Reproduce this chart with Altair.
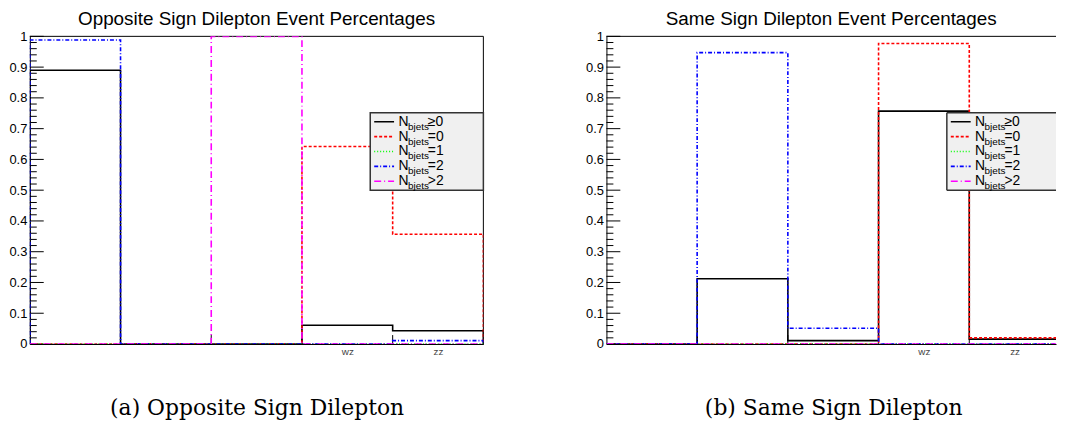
import json
import altair as alt
import pandas as pd

# ---------------- data ----------------
bin_labels = ["", "", "", "wz", "zz"]
series = ["N_bjets>=0", "N_bjets=0", "N_bjets=1", "N_bjets=2", "N_bjets>2"]
legend_suffix = ["\u22650", "=0", "=1", "=2", ">2"]

os_ge0 = [0.890, 0.0, 0.0, 0.061, 0.043]
os_eq0 = [0.0, 0.0, 0.0, 0.642, 0.357]
os_eq1 = [0.0, 0.0, 0.0, 0.0, 0.0]
os_eq2 = [0.988, 0.0, 0.0, 0.0, 0.011]
os_gt2 = [0.0, 0.0, 1.0, 0.0, 0.0]

ss_ge0 = [0.0, 0.212, 0.011, 0.757, 0.016]
ss_eq0 = [0.0, 0.0, 0.0, 0.977, 0.020]
ss_eq1 = [0.0, 0.0, 0.0, 0.0, 0.0]
ss_eq2 = [0.0, 0.947, 0.051, 0.0, 0.0]
ss_gt2 = [0.0, 0.0, 0.0, 0.0, 0.0]

major_ticks = [round(i * 0.1, 2) for i in range(11)]
minor_ticks = [round(i * 0.02, 2) for i in range(51) if i % 5 != 0]

# ---------------- styles ----------------
colors = ["#000000", "#ff0000", "#00ff00", "#0000ff", "#ff00ff"]
dashes = [[1, 0], [3, 2], [1, 2], [4, 2, 1, 2], [7, 3, 1, 3]]
SANS = "Liberation Sans"
SERIF = "DejaVu Serif"
W, H = 457, 310
NBINS = len(bin_labels)


def step_df(vals):
    n = len(vals)
    xs = [0] + list(range(n)) + [n, n]
    ys = [0.0] + list(vals) + [vals[-1], 0.0]
    return pd.DataFrame({"x": xs, "y": ys, "i": list(range(len(xs)))})


def panel(title, caption, hists, width, right_frame):
    xmax = NBINS * width / W
    xs = alt.Scale(domain=[0, xmax], nice=False, zero=False)
    ys = alt.Scale(domain=[0, 1], nice=False, zero=False)
    label_js = json.dumps(bin_labels)
    x_axis = alt.Axis(
        values=[i + 0.5 for i in range(NBINS)],
        labelExpr=f"{label_js}[floor(datum.value)]",
        ticks=False, grid=False, domain=True, domainColor="#000", domainWidth=1,
        labelFont=SANS, labelFontSize=10, labelColor="#444", labelPadding=3,
        labelFlush=False, labelOverlap=False,
        title=caption, titleFont=SERIF, titleFontSize=22, titleFontWeight="normal",
        titleColor="#000", titleBaseline="alphabetic", titleY=71, titleX=W / 2,
    )
    y_axis = alt.Axis(
        values=major_ticks, format="~g", ticks=False, grid=False, domain=True,
        domainColor="#000", domainWidth=1, labelFont=SANS, labelFontSize=13,
        labelColor="#000", labelPadding=3, title=None, labelOverlap=False,
    )
    layers = []
    one = pd.DataFrame({"k": [0]})
    # frame
    layers.append(alt.Chart(one).mark_rule(color="#000", strokeWidth=1).encode(
        x=alt.value(0), x2=alt.value(width), y=alt.value(0)))
    if right_frame:
        layers.append(alt.Chart(one).mark_rule(color="#000", strokeWidth=1).encode(
            x=alt.value(width), y=alt.value(0), y2=alt.value(H)))
    # inward y ticks
    tick_df = pd.DataFrame({"v": major_ticks + minor_ticks,
                            "len": [14] * len(major_ticks) + [7] * len(minor_ticks)})
    for ln in (14, 7):
        layers.append(
            alt.Chart(tick_df).transform_filter(f"datum.len == {ln}").mark_rule(
                color="#000", strokeWidth=1
            ).encode(
                y=alt.Y("v:Q", scale=ys, axis=y_axis),
                x=alt.value(0), x2=alt.value(ln),
            )
        )
    # x ticks at bin edges
    edge_df = pd.DataFrame({"e": list(range(1, NBINS))})
    layers.append(
        alt.Chart(edge_df).mark_rule(color="#000", strokeWidth=1).encode(
            x=alt.X("e:Q", scale=xs, axis=x_axis), y=alt.value(H - 9), y2=alt.value(H)
        )
    )
    # histograms
    for vals, c, d in zip(hists, colors, dashes):
        layers.append(
            alt.Chart(step_df(vals)).mark_line(
                interpolate="step-after", color=c, strokeDash=d, strokeWidth=1.6, clip=True
            ).encode(
                x=alt.X("x:Q", scale=xs, axis=x_axis),
                y=alt.Y("y:Q", scale=ys, axis=y_axis),
                order="i:Q",
            )
        )
    # legend box
    bx1, bx2, by1, by2 = 343, 457, 77, 155
    if right_frame:
        layers.append(alt.Chart(one).mark_rect(
            fill="#f0f0f0", stroke="#333", strokeWidth=1.5
        ).encode(x=alt.value(bx1), x2=alt.value(bx2), y=alt.value(by1), y2=alt.value(by2)))
    else:
        layers.append(alt.Chart(one).mark_rect(fill="#f0f0f0", strokeWidth=0).encode(
            x=alt.value(bx1), x2=alt.value(width), y=alt.value(by1), y2=alt.value(by2)))
        for yy in (by1, by2):
            layers.append(alt.Chart(one).mark_rule(color="#333", strokeWidth=1.5).encode(
                x=alt.value(bx1), x2=alt.value(width), y=alt.value(yy)))
        layers.append(alt.Chart(one).mark_rule(color="#333", strokeWidth=1.5).encode(
            x=alt.value(bx1), y=alt.value(by1), y2=alt.value(by2)))
    leg = pd.DataFrame({"s": series, "suffix": legend_suffix})
    for i in range(len(series)):
        ly = 86 + 15 * i
        sub = alt.Chart(leg).transform_filter(f"datum.s == '{series[i]}'")
        layers.append(sub.mark_rule(color=colors[i], strokeDash=dashes[i], strokeWidth=1.6).encode(
            x=alt.value(347), x2=alt.value(367), y=alt.value(ly)))
        layers.append(sub.mark_text(font=SANS, fontSize=14, align="left", baseline="middle",
                                    color="#000").encode(
            x=alt.value(371.5), y=alt.value(ly), text=alt.value("N")))
        layers.append(sub.mark_text(font=SANS, fontSize=10, align="left", baseline="middle",
                                    color="#000").encode(
            x=alt.value(381), y=alt.value(ly + 5), text=alt.value("bjets")))
        layers.append(sub.mark_text(font=SANS, fontSize=14, align="left", baseline="middle",
                                    color="#000").encode(
            x=alt.value(401), y=alt.value(ly), text="suffix:N"))
    return alt.layer(*layers).properties(
        width=width, height=H,
        title=alt.TitleParams(title, font=SANS, fontSize=19, fontWeight="normal",
                              color="#000", anchor="middle", frame="group",
                              baseline="bottom", offset=-17.5),
    )


left = panel("Opposite Sign Dilepton Event Percentages", "(a) Opposite Sign Dilepton",
             [os_ge0, os_eq0, os_eq1, os_eq2, os_gt2], W, True)
right = panel("Same Sign Dilepton Event Percentages", "(b) Same Sign Dilepton",
              [ss_ge0, ss_eq0, ss_eq1, ss_eq2, ss_gt2], 453, False)

chart = alt.hconcat(left, right, spacing=124, bounds="flush").properties(
    padding={"left": 0, "top": 0, "right": 0, "bottom": 0}, background="white"
).configure_view(stroke=None)

chart.save("out.html", embed_options={"renderer": "svg", "actions": False})
